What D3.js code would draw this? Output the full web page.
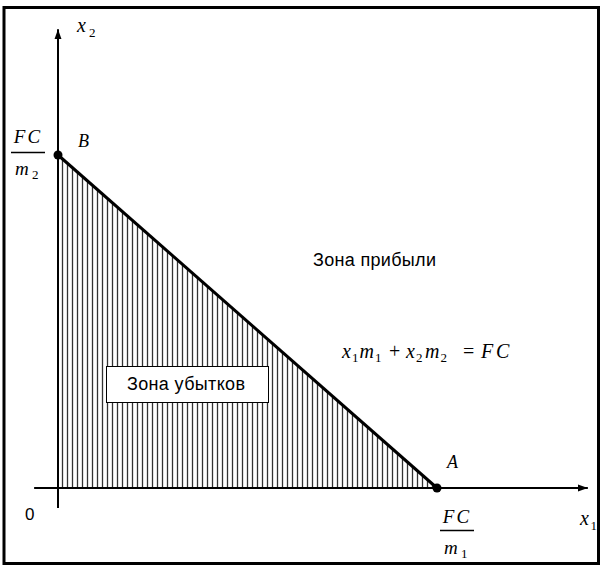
<!DOCTYPE html>
<html><head><meta charset="utf-8">
<script src="https://cdn.jsdelivr.net/npm/d3@7"></script>
<style>html,body{margin:0;padding:0;background:#fff;}svg{display:block;}</style>
</head><body><svg id="c" width="601" height="566"></svg>
<script>
// ---- data ----
const pointNames = ["B", "A"];
const pointX1 = [0, 1];      // in units of FC/m1
const pointX2 = [1, 0];      // in units of FC/m2
const zoneLabels = ["Зона прибыли", "Зона убытков"];
const originLabel = ["0"];

const svg = d3.select("#c");
const x = d3.scaleLinear().domain([0, 1]).range([58, 437]);
const y = d3.scaleLinear().domain([0, 1]).range([488, 155]);
const serif = "'Liberation Serif','Times New Roman',serif";
const sans = "'Liberation Sans',Arial,sans-serif";

// frame
svg.append("rect").attr("x", 4).attr("y", 7.5).attr("width", 594.5).attr("height", 556)
  .attr("fill", "none").attr("stroke", "#000").attr("stroke-width", 3);

// hatch lines inside the loss zone
const hatch = d3.range(x(0) + 4, x(1), 5);
svg.append("g").selectAll("line").data(hatch).join("line")
  .attr("x1", d => Math.round(d) + 0.5).attr("x2", d => Math.round(d) + 0.5)
  .attr("y1", y(0)).attr("y2", d => y(1 - x.invert(d)))
  .attr("stroke", "#333").attr("stroke-width", 1.3);

// axes
const defs = svg.append("defs");
defs.append("marker").attr("id", "arr").attr("viewBox", "0 0 10 10").attr("refX", 10).attr("refY", 5)
  .attr("markerWidth", 10).attr("markerHeight", 10).attr("markerUnits", "userSpaceOnUse").attr("orient", "auto")
  .append("path").attr("d", "M0,1.5 L10,5 L0,8.5 Z").attr("fill", "#000");
svg.append("line").attr("x1", x(-0.063)).attr("x2", x(1.398)).attr("y1", y(0)).attr("y2", y(0))
  .attr("stroke", "#000").attr("stroke-width", 2).attr("marker-end", "url(#arr)");
svg.append("line").attr("x1", x(0)).attr("x2", x(0)).attr("y1", y(-0.06)).attr("y2", y(1.378))
  .attr("stroke", "#000").attr("stroke-width", 2).attr("marker-end", "url(#arr)");

// break-even line
svg.append("path").datum(pointX1.map((v, i) => [v, pointX2[i]]))
  .attr("d", d3.line().x(d => x(d[0])).y(d => y(d[1])))
  .attr("stroke", "#000").attr("stroke-width", 3).attr("fill", "none");
svg.selectAll("circle.pt").data(pointX1).join("circle").attr("class", "pt")
  .attr("cx", d => x(d)).attr("cy", (d, i) => y(pointX2[i])).attr("r", 4.5).attr("fill", "#000");

// point labels
svg.append("text").attr("x", 78).attr("y", 147).attr("font-family", serif).attr("font-style", "italic")
  .attr("font-size", 18).text(pointNames[0]);
svg.append("text").attr("x", 447).attr("y", 468).attr("font-family", serif).attr("font-style", "italic")
  .attr("font-size", 18).text(pointNames[1]);

// place pieces of math text at absolute x positions
function pieces(baseY, items) {
  const g = svg.append("g").attr("font-family", serif);
  items.forEach(([txt, px, italic, size, dy]) => {
    g.append("text").attr("x", px).attr("y", baseY + (dy || 0)).attr("font-size", size)
      .attr("font-style", italic ? "italic" : "normal").text(txt);
  });
}
// axis names
pieces(32, [["x", 77, true, 20], ["2", 89, false, 13, 5]]);
pieces(525, [["x", 580, true, 20], ["1", 590.5, false, 13, 5]]);

// fractions
function frac(cx, yTop, yLine, yBot, num) {
  svg.append("text").attr("x", cx).attr("y", yTop).attr("text-anchor", "middle").attr("font-family", serif)
    .attr("font-style", "italic").attr("font-size", 19).attr("letter-spacing", 2).text("FC");
  svg.append("line").attr("x1", cx - 17).attr("x2", cx + 17).attr("y1", yLine).attr("y2", yLine)
    .attr("stroke", "#000").attr("stroke-width", 1.3);
  pieces(yBot, [["m", cx - 13, true, 19], [num, cx + 4, false, 13, 4]]);
}
frac(28, 143, 152.5, 175, "2");
frac(457, 523, 530.5, 554, "1");

// origin
svg.append("text").attr("x", 25).attr("y", 520).attr("font-family", sans).attr("font-size", 17).text(originLabel[0]);

// profit zone
svg.append("text").attr("x", 313).attr("y", 266).attr("font-family", sans).attr("font-size", 18)
  .attr("textLength", 123).text(zoneLabels[0]);

// equation x1m1 + x2m2 = FC
pieces(358, [
  ["x", 342, true, 20], ["1", 352, false, 13, 4],
  ["m", 359.5, true, 20], ["1", 375, false, 13, 4],
  ["+", 389, false, 20],
  ["x", 406, true, 20], ["2", 416, false, 13, 4],
  ["m", 425, true, 20], ["2", 440.5, false, 13, 4],
  ["=", 463, false, 20],
  ["F", 481, true, 20], ["C", 496, true, 20]
]);

// loss zone box
svg.append("rect").attr("x", 106.5).attr("y", 366.5).attr("width", 162).attr("height", 36)
  .attr("fill", "#fff").attr("stroke", "#000").attr("stroke-width", 1);
svg.append("text").attr("x", 127).attr("y", 390).attr("font-family", sans)
  .attr("font-size", 18).attr("textLength", 118).text(zoneLabels[1]);
</script></body></html>
